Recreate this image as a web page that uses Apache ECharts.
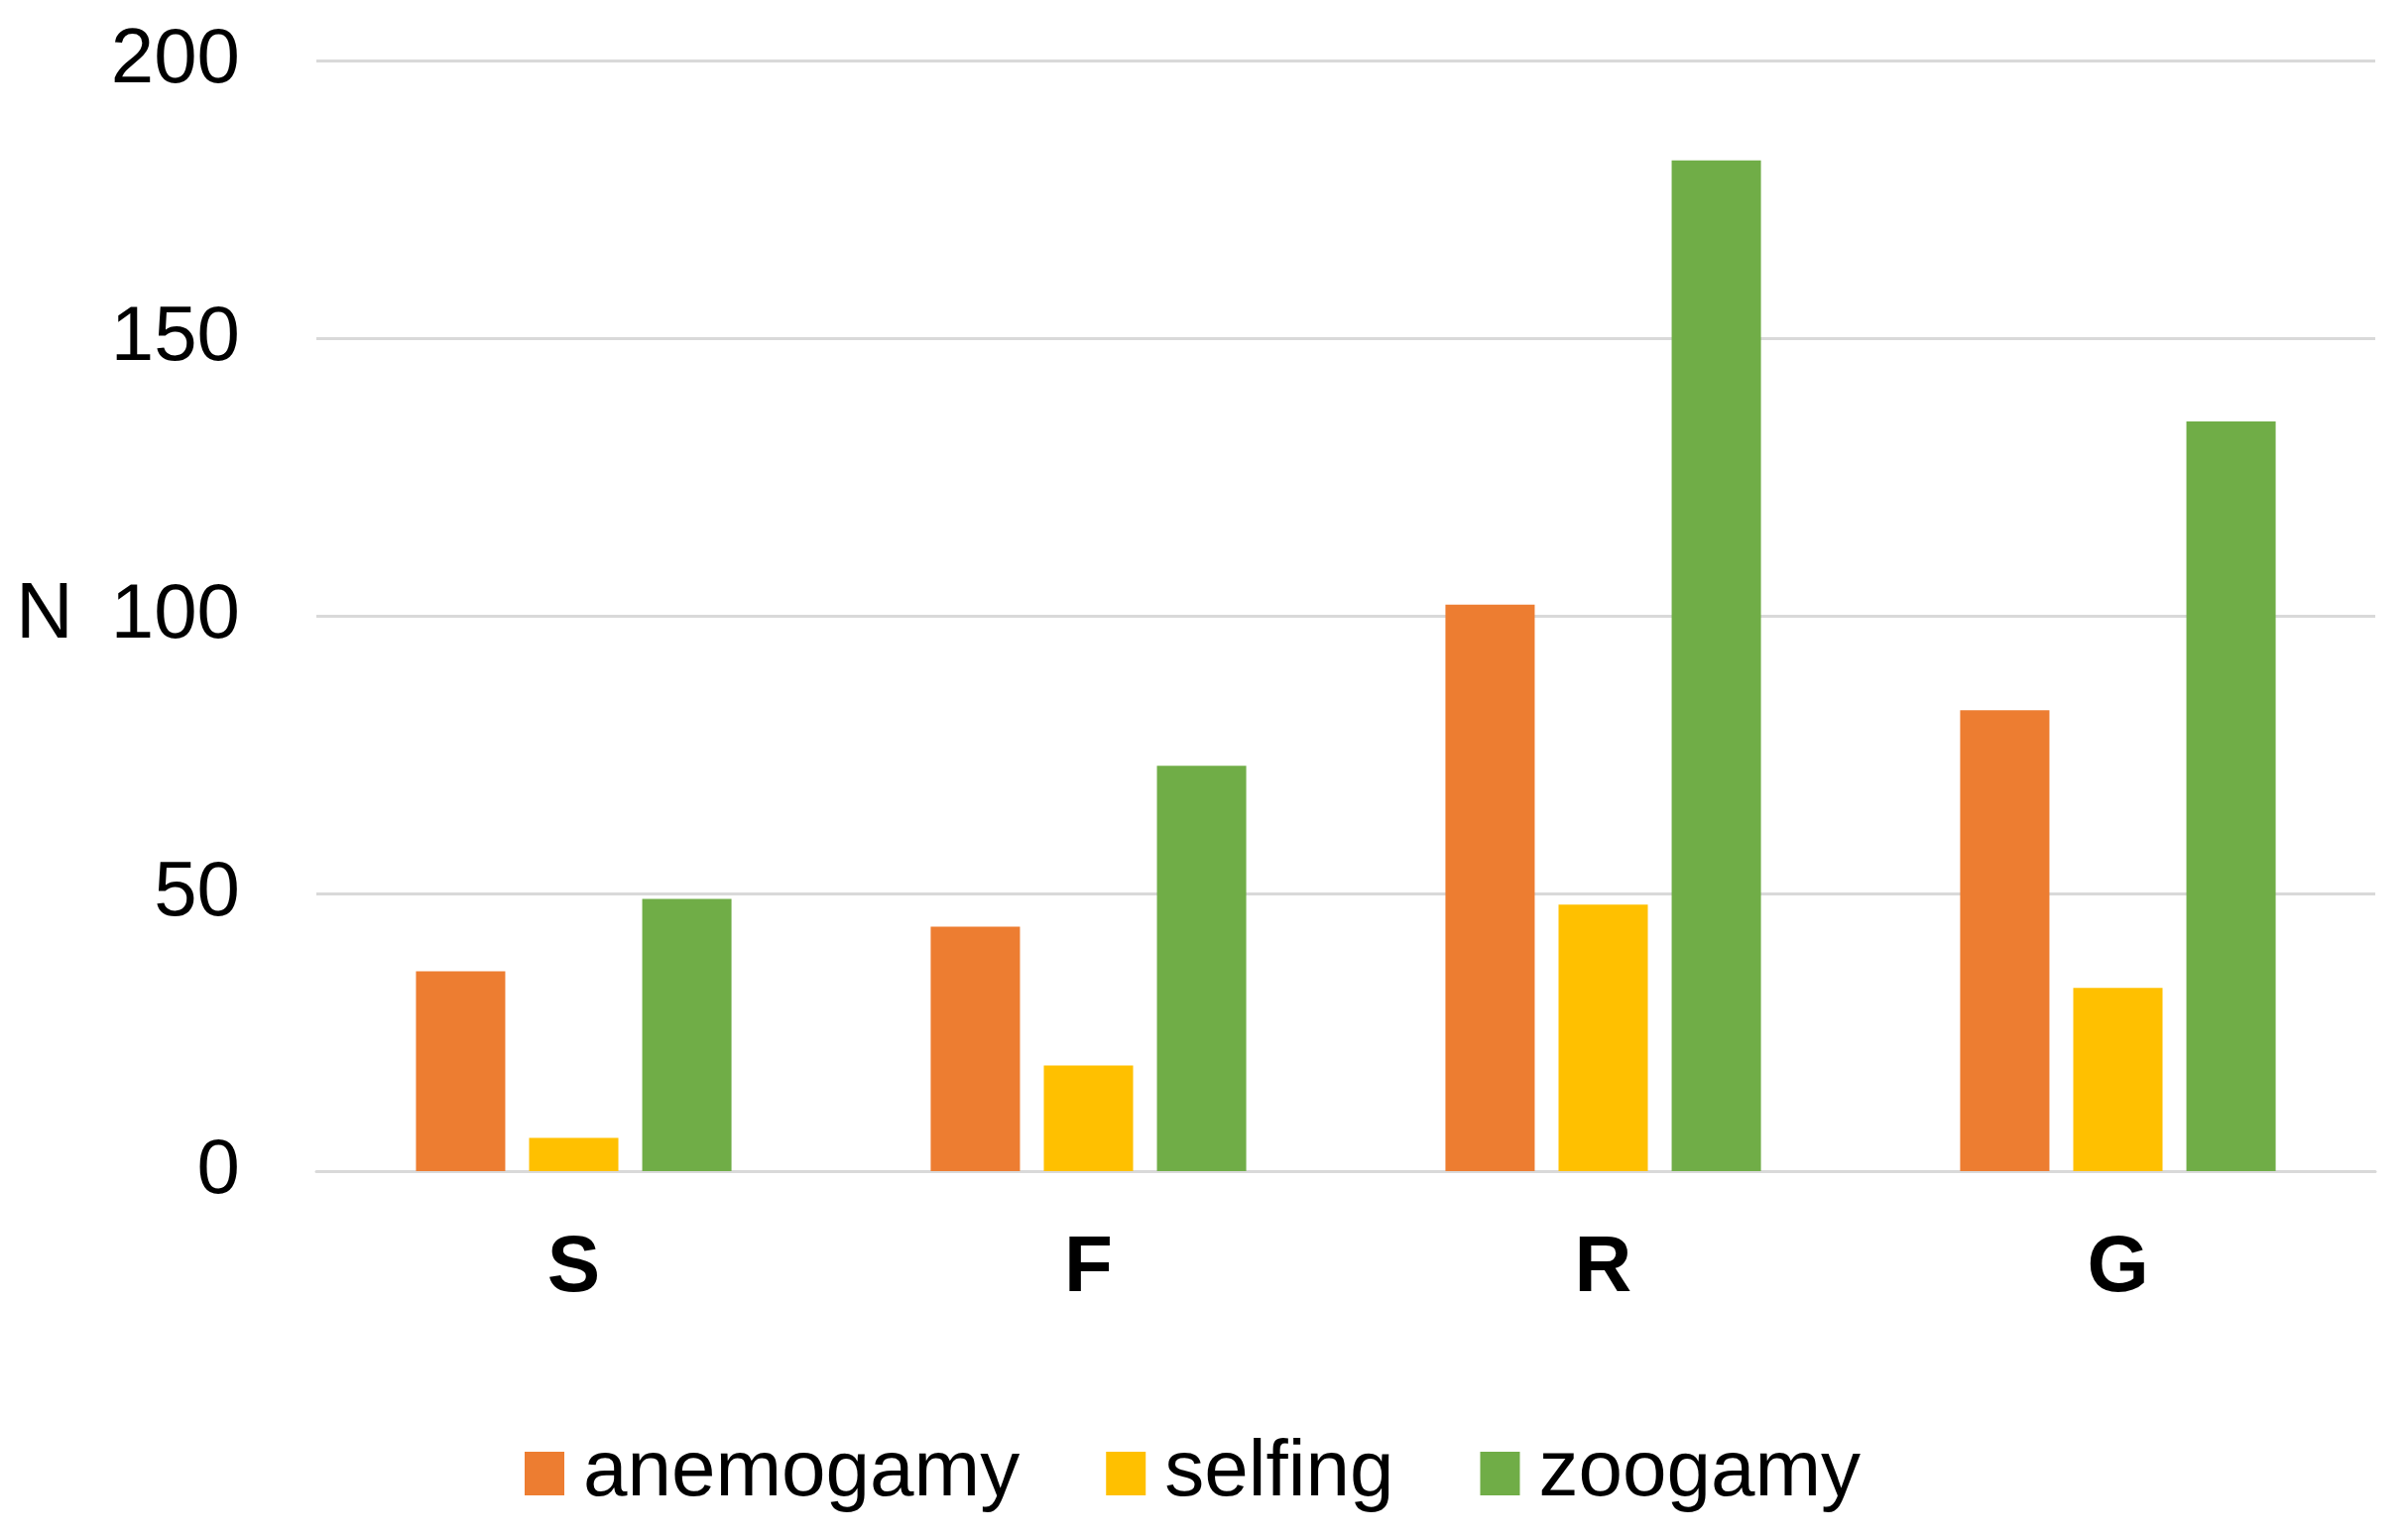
<!DOCTYPE html>
<html>
<head>
<meta charset="utf-8">
<script src="https://cdn.jsdelivr.net/npm/echarts@6/dist/echarts.min.js"></script>
<style>
html,body{margin:0;padding:0;background:#fff;}
#chart{width:2428px;height:1552px;}
</style>
</head>
<body>
<div id="chart"></div>
<script>
const categories = ['S', 'F', 'R', 'G'];
const anemogamy = [36, 44, 102, 83];
const selfing = [6, 19, 48, 33];
const zoogamy = [49, 73, 182, 135];
const yTicks = [0, 50, 100, 150, 200];

const FONT = '"Liberation Sans", Arial, sans-serif';
const chart = echarts.init(document.getElementById('chart'));
chart.setOption({
  backgroundColor: '#ffffff',
  animation: false,
  grid: { left: 319, right: 33, top: 61, bottom: 371, containLabel: false },
  legend: {
    data: ['anemogamy', 'selfing', 'zoogamy'],
    left: 524,
    top: 1441,
    itemWidth: 40,
    itemHeight: 44,
    itemGap: 87,
    icon: 'rect',
    textStyle: { fontFamily: FONT, fontSize: 80, color: '#000', padding: [0, 0, 0, 14] }
  },
  xAxis: {
    type: 'category',
    data: categories,
    axisLine: { show: true, lineStyle: { color: '#d9d9d9', width: 3 } },
    axisTick: { show: false },
    axisLabel: { fontFamily: FONT, fontSize: 80, fontWeight: 'bold', color: '#000', margin: 59 }
  },
  yAxis: {
    type: 'value',
    min: yTicks[0],
    max: yTicks[yTicks.length - 1],
    interval: 50,
    name: 'N',
    nameLocation: 'middle',
    nameRotate: 0,
    nameGap: 274,
    nameTextStyle: { fontFamily: FONT, fontSize: 80, color: '#000', align: 'center', verticalAlign: 'middle' },
    axisLine: { show: false },
    axisTick: { show: false },
    splitLine: { lineStyle: { color: '#d9d9d9', width: 3 } },
    axisLabel: { fontFamily: FONT, fontSize: 78, color: '#000', margin: 77 }
  },
  series: [
    { name: 'anemogamy', type: 'bar', data: anemogamy, itemStyle: { color: '#ED7D31' }, barGap: '26.7%', barCategoryGap: '38.7%' },
    { name: 'selfing', type: 'bar', data: selfing, itemStyle: { color: '#FFC000' } },
    { name: 'zoogamy', type: 'bar', data: zoogamy, itemStyle: { color: '#70AD47' } }
  ]
});
</script>
</body>
</html>
